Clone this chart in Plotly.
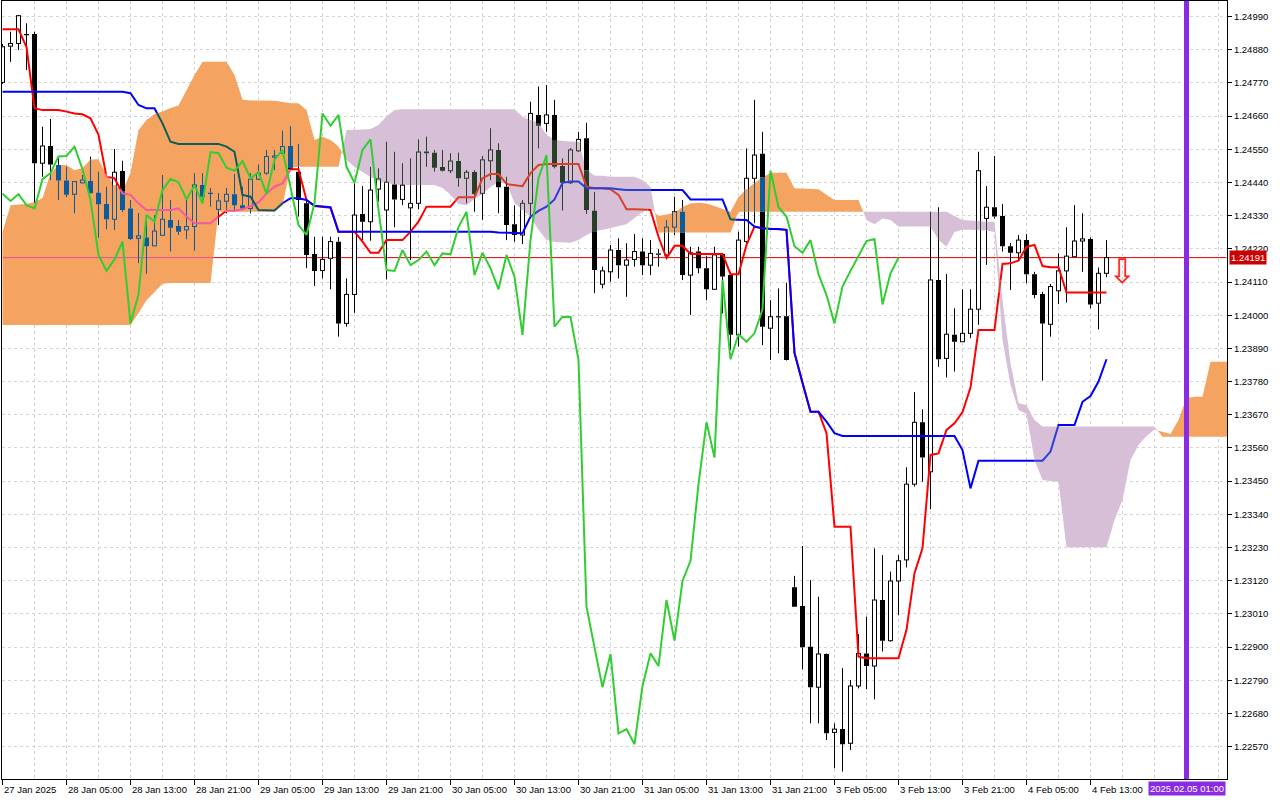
import plotly.graph_objects as go

# ---------------- data (EURUSD-like H1) ----------------
opens = [1.24772, 1.24892, 1.24901, 1.24932, 1.24932, 1.24504, 1.24561, 1.24498, 1.24447, 1.24401,
         1.24439, 1.24445, 1.24406, 1.24369, 1.24318, 1.24478, 1.24354, 1.24255, 1.24258, 1.24230,
         1.24265, 1.24316, 1.24296, 1.24283, 1.24294, 1.24432, 1.24405, 1.24351, 1.24378, 1.24401,
         1.24365, 1.24354, 1.24451, 1.24471, 1.24524, 1.24537, 1.24561, 1.24476, 1.24371, 1.24203,
         1.24148, 1.24189, 1.24244, 1.23973, 1.24069, 1.24336, 1.24310, 1.24418, 1.24349, 1.24435,
         1.24384, 1.24356, 1.24371, 1.24543, 1.24539, 1.24491, 1.24479, 1.24511, 1.24454, 1.24475,
         1.24404, 1.24512, 1.24548, 1.24426, 1.24302, 1.24266, 1.24371, 1.24664, 1.24636, 1.24664,
         1.24495, 1.24439, 1.24545, 1.24587, 1.24346, 1.24103, 1.24144, 1.24216, 1.24166, 1.24185,
         1.24211, 1.24166, 1.24203, 1.24200, 1.24292, 1.24343, 1.24133, 1.24211, 1.24156, 1.24086,
         1.24203, 1.24133, 1.23935, 1.24244, 1.24454, 1.24535, 1.23957, 1.23995, 1.23997, 1.23098,
         1.23036, 1.22901, 1.22767, 1.22877, 1.22617, 1.22628, 1.22581, 1.22771, 1.22879, 1.22837,
         1.23056, 1.22921, 1.23119, 1.23189, 1.23440, 1.23645, 1.23481, 1.24117, 1.23857, 1.23935,
         1.23912, 1.23940, 1.24020, 1.24321, 1.24358, 1.24329, 1.24229, 1.24207, 1.24249, 1.24136,
         1.24070, 1.23970, 1.24081, 1.24147, 1.24194, 1.24246, 1.24253, 1.24040, 1.24139]
highs = [1.24899, 1.24940, 1.24995, 1.24968, 1.24940, 1.24625, 1.24651, 1.24526, 1.24492, 1.24445,
         1.24465, 1.24526, 1.24476, 1.24426, 1.24551, 1.24512, 1.24382, 1.24339, 1.24332, 1.24332,
         1.24465, 1.24382, 1.24316, 1.24382, 1.24471, 1.24471, 1.24422, 1.24405, 1.24422, 1.24468,
         1.24426, 1.24471, 1.24500, 1.24548, 1.24548, 1.24612, 1.24627, 1.24568, 1.24382, 1.24260,
         1.24260, 1.24260, 1.24259, 1.24122, 1.24437, 1.24428, 1.24492, 1.24487, 1.24575, 1.24542,
         1.24504, 1.24520, 1.24583, 1.24592, 1.24548, 1.24548, 1.24537, 1.24539, 1.24481, 1.24481,
         1.24528, 1.24620, 1.24570, 1.24459, 1.24365, 1.24382, 1.24708, 1.24758, 1.24763, 1.24714,
         1.24520, 1.24554, 1.24608, 1.24638, 1.24409, 1.24161, 1.24233, 1.24255, 1.24239, 1.24269,
         1.24255, 1.24249, 1.24219, 1.24316, 1.24393, 1.24382, 1.24227, 1.24227, 1.24196, 1.24227,
         1.24206, 1.24144, 1.24277, 1.24553, 1.24714, 1.24608, 1.24050, 1.24089, 1.24108, 1.23136,
         1.23235, 1.23122, 1.23067, 1.22879, 1.22647, 1.22830, 1.22791, 1.22943, 1.23001, 1.23227,
         1.23205, 1.23150, 1.23205, 1.23496, 1.23745, 1.23688, 1.24343, 1.24358, 1.24137, 1.24023,
         1.24086, 1.24086, 1.24542, 1.24428, 1.24528, 1.24369, 1.24240, 1.24266, 1.24269, 1.24144,
         1.24078, 1.24104, 1.24205, 1.24292, 1.24365, 1.24338, 1.24258, 1.24158, 1.24249]
lows = [1.24767, 1.24840, 1.24879, 1.24813, 1.24372, 1.24459, 1.24448, 1.24382, 1.24391, 1.24338,
        1.24437, 1.24403, 1.24257, 1.24285, 1.24283, 1.24342, 1.24249, 1.24173, 1.24137, 1.24229,
        1.24263, 1.24211, 1.24266, 1.24252, 1.24214, 1.24382, 1.24360, 1.24299, 1.24338, 1.24349,
        1.24349, 1.24338, 1.24448, 1.24465, 1.24481, 1.24535, 1.24481, 1.24327, 1.24156, 1.24097,
        1.24122, 1.24086, 1.23929, 1.23962, 1.24008, 1.24249, 1.24247, 1.24376, 1.24119, 1.24292,
        1.24365, 1.24183, 1.24351, 1.24492, 1.24476, 1.24476, 1.24471, 1.24426, 1.24371, 1.24343,
        1.24316, 1.24448, 1.24338, 1.24249, 1.24244, 1.24236, 1.24327, 1.24553, 1.24608, 1.24487,
        1.24347, 1.24435, 1.24542, 1.24336, 1.24073, 1.24089, 1.24111, 1.24122, 1.24061, 1.24161,
        1.24133, 1.24133, 1.24161, 1.24185, 1.24266, 1.24117, 1.24001, 1.24139, 1.24050, 1.24084,
        1.24006, 1.23885, 1.23896, 1.24227, 1.24305, 1.23901, 1.23852, 1.23874, 1.23850, 1.23033,
        1.22826, 1.22647, 1.22647, 1.22592, 1.22498, 1.22487, 1.22559, 1.22763, 1.22760, 1.22727,
        1.22885, 1.22918, 1.23006, 1.23164, 1.23432, 1.23448, 1.23357, 1.23829, 1.23794, 1.23813,
        1.23912, 1.23924, 1.23968, 1.24167, 1.24321, 1.24211, 1.24084, 1.24183, 1.24106, 1.24056,
        1.23783, 1.23929, 1.24037, 1.24042, 1.24194, 1.24144, 1.24023, 1.23953, 1.24126]
closes = [1.24890, 1.24901, 1.24993, 1.24929, 1.24504, 1.24561, 1.24500, 1.24447, 1.24399, 1.24443,
          1.24448, 1.24404, 1.24368, 1.24318, 1.24474, 1.24349, 1.24253, 1.24263, 1.24229, 1.24279,
          1.24318, 1.24290, 1.24277, 1.24294, 1.24432, 1.24393, 1.24403, 1.24379, 1.24401, 1.24365,
          1.24354, 1.24451, 1.24471, 1.24526, 1.24528, 1.24559, 1.24484, 1.24382, 1.24200, 1.24147,
          1.24185, 1.24244, 1.23973, 1.24069, 1.24332, 1.24310, 1.24415, 1.24452, 1.24441, 1.24384,
          1.24431, 1.24371, 1.24541, 1.24537, 1.24489, 1.24479, 1.24511, 1.24454, 1.24474, 1.24402,
          1.24515, 1.24548, 1.24424, 1.24299, 1.24266, 1.24371, 1.24669, 1.24628, 1.24664, 1.24492,
          1.24439, 1.24548, 1.24583, 1.24349, 1.24150, 1.24147, 1.24216, 1.24166, 1.24183, 1.24211,
          1.24166, 1.24205, 1.24202, 1.24292, 1.24343, 1.24133, 1.24207, 1.24156, 1.24086, 1.24200,
          1.24128, 1.23935, 1.24249, 1.24454, 1.24531, 1.23962, 1.23995, 1.23994, 1.23852, 1.23034,
          1.22899, 1.22767, 1.22877, 1.22614, 1.22628, 1.22578, 1.22771, 1.22879, 1.22837, 1.23056,
          1.22921, 1.23119, 1.23186, 1.23440, 1.23645, 1.23528, 1.24117, 1.23854, 1.23937, 1.23912,
          1.23940, 1.24020, 1.24479, 1.24358, 1.24327, 1.24229, 1.24207, 1.24249, 1.24136, 1.24067,
          1.23973, 1.24095, 1.24147, 1.24196, 1.24246, 1.24253, 1.24036, 1.24139, 1.24191]

tenkan = [1.24948, 1.24948, 1.24948, 1.24889, 1.24686, 1.24680, 1.24680, 1.24680, 1.24675, 1.24669,
          1.24666, 1.24653, 1.24598, 1.24459, 1.24454, 1.24404, 1.24399, 1.24371, 1.24349, 1.24349,
          1.24349, 1.24349, 1.24354, 1.24327, 1.24305, 1.24305, 1.24305, 1.24327, 1.24346, 1.24346,
          1.24351, 1.24362, 1.24374, 1.24404, 1.24426, 1.24437, 1.24484, 1.24484, 1.24382, 1.24362,
          1.24359, 1.24356, 1.24277, 1.24277, 1.24277, 1.24244, 1.24207, 1.24207, 1.24249, 1.24249,
          1.24249, 1.24277, 1.24310, 1.24360, 1.24360, 1.24360, 1.24360, 1.24391, 1.24391, 1.24391,
          1.24454, 1.24468, 1.24468, 1.24435, 1.24432, 1.24428, 1.24471, 1.24498, 1.24501, 1.24501,
          1.24501, 1.24501, 1.24501, 1.24426, 1.24421, 1.24421, 1.24418, 1.24399, 1.24351, 1.24351,
          1.24351, 1.24349, 1.24260, 1.24189, 1.24230, 1.24230, 1.24203, 1.24203, 1.24203, 1.24203,
          1.24203, 1.24136, 1.24136, 1.24233, 1.24294, 1.24288, 1.24286, 1.24286, 1.24283, 1.23875,
          1.23775, 1.23680, 1.23680, 1.23609, 1.23299, 1.23299, 1.23299, 1.22868, 1.22863, 1.22863,
          1.22863, 1.22863, 1.22863, 1.22957, 1.23145, 1.23227, 1.23537, 1.23542, 1.23620, 1.23642,
          1.23679, 1.23760, 1.23951, 1.23951, 1.23951, 1.24170, 1.24172, 1.24181, 1.24227, 1.24233,
          1.24163, 1.24159, 1.24159, 1.24075, 1.24075, 1.24075, 1.24075, 1.24075, 1.24075]
kijun = [1.24741, 1.24741, 1.24741, 1.24741, 1.24741, 1.24741, 1.24741, 1.24741, 1.24741, 1.24741,
         1.24741, 1.24741, 1.24741, 1.24741, 1.24741, 1.24741, 1.24736, 1.24697, 1.24686, 1.24686,
         1.24636, 1.24575, 1.24568, 1.24568, 1.24568, 1.24568, 1.24568, 1.24568, 1.24559, 1.24542,
         1.24399, 1.24393, 1.24349, 1.24349, 1.24347, 1.24371, 1.24388, 1.24388, 1.24382, 1.24363,
         1.24360, 1.24358, 1.24277, 1.24277, 1.24277, 1.24277, 1.24277, 1.24277, 1.24277, 1.24277,
         1.24277, 1.24277, 1.24277, 1.24277, 1.24277, 1.24277, 1.24277, 1.24277, 1.24277, 1.24277,
         1.24277, 1.24277, 1.24274, 1.24274, 1.24274, 1.24272, 1.24327, 1.24346, 1.24360, 1.24384,
         1.24439, 1.24443, 1.24443, 1.24421, 1.24421, 1.24421, 1.24421, 1.24418, 1.24415, 1.24415,
         1.24415, 1.24415, 1.24415, 1.24415, 1.24415, 1.24415, 1.24384, 1.24384, 1.24384, 1.24384,
         1.24384, 1.24318, 1.24316, 1.24316, 1.24294, 1.24288, 1.24286, 1.24286, 1.24283, 1.23875,
         1.23775, 1.23680, 1.23680, 1.23647, 1.23609, 1.23600, 1.23600, 1.23600, 1.23600, 1.23600,
         1.23600, 1.23600, 1.23600, 1.23600, 1.23600, 1.23600, 1.23600, 1.23600, 1.23600, 1.23600,
         1.23553, 1.23426, 1.23518, 1.23518, 1.23518, 1.23518, 1.23518, 1.23518, 1.23518, 1.23518,
         1.23518, 1.23548, 1.23636, 1.23636, 1.23636, 1.23713, 1.23732, 1.23780, 1.23854]
span_a = [1.24276, 1.24365, 1.24367, 1.24369, 1.24375, 1.24389, 1.24471, 1.24498, 1.24498, 1.24481,
          1.24488, 1.24516, 1.24517, 1.24465, 1.24432, 1.24412, 1.24472, 1.24614, 1.24647, 1.24667,
          1.24675, 1.24687, 1.24695, 1.24747, 1.24796, 1.24840, 1.24840, 1.24840, 1.24840, 1.24796,
          1.24714, 1.24712, 1.24711, 1.24711, 1.24711, 1.24707, 1.24703, 1.24703, 1.24680, 1.24581,
          1.24592, 1.24581, 1.24559, 1.24515, 1.24491, 1.24475, 1.24458, 1.24445, 1.24438, 1.24433,
          1.24432, 1.24432, 1.24432, 1.24432, 1.24432, 1.24422, 1.24399, 1.24369, 1.24365, 1.24385,
          1.24402, 1.24425, 1.24442, 1.24438, 1.24372, 1.24349, 1.24326, 1.24283, 1.24249, 1.24243,
          1.24241, 1.24240, 1.24249, 1.24266, 1.24278, 1.24283, 1.24288, 1.24296, 1.24302, 1.24322,
          1.24342, 1.24354, 1.24329, 1.24334, 1.24340, 1.24359, 1.24370, 1.24373, 1.24370, 1.24362,
          1.24352, 1.24343, 1.24392, 1.24418, 1.24438, 1.24457, 1.24472, 1.24472, 1.24472, 1.24421,
          1.24420, 1.24418, 1.24418, 1.24399, 1.24382, 1.24382, 1.24382, 1.24382, 1.24316, 1.24302,
          1.24321, 1.24316, 1.24294, 1.24294, 1.24294, 1.24294, 1.24294, 1.24249, 1.24227, 1.24276,
          1.24283, 1.24283, 1.24283, 1.24281, 1.24276, 1.23918, 1.23769, 1.23686, 1.23673, 1.23520,
          1.23454, 1.23450, 1.23447, 1.23231, 1.23231, 1.23231, 1.23231, 1.23231, 1.23231, 1.23321,
          1.23388, 1.23520, 1.23570, 1.23600, 1.23621, 1.23613, 1.23606, 1.23653, 1.23726, 1.23730,
          1.23730, 1.23846, 1.23846, 1.23846, 1.23846]
span_b = [1.23968, 1.23968, 1.23968, 1.23968, 1.23968, 1.23968, 1.23968, 1.23968, 1.23968, 1.23968,
          1.23968, 1.23968, 1.23968, 1.23968, 1.23968, 1.23968, 1.23968, 1.24007, 1.24050, 1.24077,
          1.24104, 1.24107, 1.24107, 1.24107, 1.24107, 1.24107, 1.24107, 1.24343, 1.24343, 1.24343,
          1.24343, 1.24343, 1.24343, 1.24343, 1.24343, 1.24365, 1.24488, 1.24492, 1.24492, 1.24492,
          1.24492, 1.24492, 1.24492, 1.24614, 1.24614, 1.24616, 1.24617, 1.24631, 1.24660, 1.24680,
          1.24683, 1.24683, 1.24683, 1.24683, 1.24683, 1.24683, 1.24683, 1.24683, 1.24683, 1.24683,
          1.24683, 1.24683, 1.24683, 1.24683, 1.24683, 1.24658, 1.24647, 1.24637, 1.24598, 1.24581,
          1.24578, 1.24576, 1.24575, 1.24481, 1.24463, 1.24462, 1.24459, 1.24459, 1.24459, 1.24459,
          1.24448, 1.24425, 1.24274, 1.24274, 1.24274, 1.24274, 1.24274, 1.24274, 1.24274, 1.24274,
          1.24274, 1.24274, 1.24343, 1.24343, 1.24343, 1.24343, 1.24343, 1.24343, 1.24343, 1.24343,
          1.24343, 1.24343, 1.24343, 1.24343, 1.24343, 1.24343, 1.24343, 1.24343, 1.24343, 1.24343,
          1.24343, 1.24343, 1.24343, 1.24343, 1.24343, 1.24343, 1.24343, 1.24343, 1.24343, 1.24329,
          1.24316, 1.24316, 1.24312, 1.24310, 1.24310, 1.24050, 1.23842, 1.23709, 1.23702, 1.23653,
          1.23631, 1.23631, 1.23631, 1.23631, 1.23631, 1.23631, 1.23631, 1.23631, 1.23631, 1.23631,
          1.23631, 1.23631, 1.23631, 1.23631, 1.23631, 1.23597, 1.23597, 1.23597, 1.23597, 1.23597,
          1.23597, 1.23597, 1.23597, 1.23597, 1.23597]

chikou_shift = 26
x_labels = ["27 Jan 2025", "28 Jan 05:00", "28 Jan 13:00", "28 Jan 21:00", "29 Jan 05:00",
            "29 Jan 13:00", "29 Jan 21:00", "30 Jan 05:00", "30 Jan 13:00", "30 Jan 21:00",
            "31 Jan 05:00", "31 Jan 13:00", "31 Jan 21:00", "3 Feb 05:00", "3 Feb 13:00",
            "3 Feb 21:00", "4 Feb 05:00", "4 Feb 13:00"]
label_step = 8
y_tick_labels = ["1.22570", "1.22680", "1.22790", "1.22900", "1.23010", "1.23120", "1.23230",
                 "1.23340", "1.23450", "1.23560", "1.23670", "1.23780", "1.23890", "1.24000",
                 "1.24110", "1.24220", "1.24330", "1.24440", "1.24550", "1.24660", "1.24770",
                 "1.24880", "1.24990"]
last_price = 1.24191
marker_time = "2025.02.05 01:00"
marker_bar = 148
signal_bar = 140
signal_price = 1.24147

# ---------------- styles ----------------
UP_CLOUD = "#F4A460"
DN_CLOUD = "#D8BFD8"
GRID = "#D4D4D4"
FONT = "Liberation Sans, Arial, sans-serif"
BLACKS = {0: "#000000", 1: "#0B5B9F", 2: "#274027"}
WHITES = {0: "#FFFFFF", 1: UP_CLOUD, 2: DN_CLOUD}
REDS = {0: "#FF0000", 1: "#F45B9F", 2: "#D84027"}
BLUES = {0: "#0000FF", 1: "#0B5B60", 2: "#2740D8"}
PRICE_LINE = {0: "#E00000", 1: "#E0509F", 2: "#D84027"}

n_bars = len(closes)
n_cloud = len(span_a)

fig = go.Figure()


def state_at(k, y):
    a, b = span_a[k], span_b[k]
    if min(a, b) < y < max(a, b):
        return 1 if a > b else 2
    return 0


def split_v(k, y0, y1):
    lo, hi = sorted((span_a[k], span_b[k]))
    st_in = 1 if span_a[k] > span_b[k] else 2
    if y1 <= lo or y0 >= hi:
        return [(y0, y1, 0)]
    parts = []
    if y0 < lo:
        parts.append((y0, lo, 0))
    parts.append((max(y0, lo), min(y1, hi), st_in))
    if y1 > hi:
        parts.append((hi, y1, 0))
    return parts


# ---- cloud polygons ----
polys = {True: ([], []), False: ([], [])}
cur = span_a[0] >= span_b[0]
xs, ya, yb = [0], [span_a[0]], [span_b[0]]


def close_run(sign, xs, ya, yb):
    px, py = polys[sign]
    if px:
        px.append(None)
        py.append(None)
    px.extend(xs + xs[::-1])
    py.extend(ya + yb[::-1])


for k in range(1, n_cloud):
    s = span_a[k] >= span_b[k]
    if s != cur:
        d0 = span_a[k - 1] - span_b[k - 1]
        d1 = span_a[k] - span_b[k]
        t = d0 / (d0 - d1)
        xc = k - 1 + t
        yc = span_a[k - 1] + t * (span_a[k] - span_a[k - 1])
        xs.append(xc); ya.append(yc); yb.append(yc)
        close_run(cur, xs, ya, yb)
        cur = s
        xs, ya, yb = [xc], [yc], [yc]
    xs.append(k); ya.append(span_a[k]); yb.append(span_b[k])
close_run(cur, xs, ya, yb)

for sign, col in ((True, UP_CLOUD), (False, DN_CLOUD)):
    px, py = polys[sign]
    fig.add_trace(go.Scatter(x=px, y=py, mode="lines", fill="toself", fillcolor=col,
                             line=dict(width=0, color=col), hoverinfo="skip"))


# ---- lines split by the cloud (XOR-like colouring) ----
def split_line(xv, yv):
    pieces = []
    for k in range(len(xv) - 1):
        x0, x1 = xv[k], xv[k + 1]
        y0, y1 = yv[k], yv[k + 1]
        i0 = int(x0)
        a0, a1 = span_a[i0], span_a[i0 + 1]
        b0, b1 = span_b[i0], span_b[i0 + 1]
        ts = [0.0, 1.0]
        for p0, p1 in ((a0, a1), (b0, b1)):
            d0, d1 = y0 - p0, y1 - p1
            if d0 != d1:
                t = d0 / (d0 - d1)
                if 0 < t < 1:
                    ts.append(t)
        d0, d1 = a0 - b0, a1 - b1
        if d0 != d1:
            t = d0 / (d0 - d1)
            if 0 < t < 1:
                ts.append(t)
        ts.sort()
        for t0, t1 in zip(ts[:-1], ts[1:]):
            tm = (t0 + t1) / 2
            ym = y0 + (y1 - y0) * tm
            am = a0 + (a1 - a0) * tm
            bm = b0 + (b1 - b0) * tm
            if min(am, bm) < ym < max(am, bm):
                st = 1 if am > bm else 2
            else:
                st = 0
            pieces.append((x0 + (x1 - x0) * t0, y0 + (y1 - y0) * t0,
                           x0 + (x1 - x0) * t1, y0 + (y1 - y0) * t1, st))
    return pieces


def add_split_line(xv, yv, colors, width):
    groups = {0: ([], []), 1: ([], []), 2: ([], [])}
    prev = None
    for (x0, y0, x1, y1, st) in split_line(xv, yv):
        gx, gy = groups[st]
        if st != prev or not gx:
            if gx:
                gx.append(None); gy.append(None)
            gx.extend([x0, x1]); gy.extend([y0, y1])
        else:
            gx.append(x1); gy.append(y1)
        prev = st
    for st, (gx, gy) in groups.items():
        if gx:
            fig.add_trace(go.Scatter(x=gx, y=gy, mode="lines",
                                     line=dict(color=colors[st], width=width),
                                     hoverinfo="skip"))


# price line
px_range = list(range(0, n_cloud - 1))
add_split_line(px_range, [last_price] * len(px_range), PRICE_LINE, 1)

# ---- candles ----
HW_FILL = 0.3125
HW_OUT = 0.25
wick = {s: ([], []) for s in range(3)}
bear = {s: ([], []) for s in range(3)}
bullf = {s: ([], []) for s in range(3)}
outl = {s: ([], []) for s in range(3)}


def add_seg(d, s, xs_, ys_):
    d[s][0].extend(xs_ + [None])
    d[s][1].extend(ys_ + [None])


for k in range(n_bars):
    o, h, l, c = opens[k], highs[k], lows[k], closes[k]
    top, bot = max(o, c), min(o, c)
    if top - bot < 0.00004:
        mid = (top + bot) / 2
        top, bot = mid + 0.00002, mid - 0.00002
    for y0, y1 in ((top, h), (l, bot)):
        if y1 > y0:
            for a_, b_, s in split_v(k, y0, y1):
                add_seg(wick, s, [k, k], [a_, b_])
    if c < o:
        for a_, b_, s in split_v(k, bot, top):
            add_seg(bear, s, [k - HW_FILL, k + HW_FILL, k + HW_FILL, k - HW_FILL, k - HW_FILL],
                    [a_, a_, b_, b_, a_])
    else:
        for a_, b_, s in split_v(k, bot, top):
            add_seg(bullf, s, [k - HW_OUT, k + HW_OUT, k + HW_OUT, k - HW_OUT, k - HW_OUT],
                    [a_, a_, b_, b_, a_])
            add_seg(outl, s, [k - HW_OUT, k - HW_OUT], [a_, b_])
            add_seg(outl, s, [k + HW_OUT, k + HW_OUT], [a_, b_])
        for yy in (top, bot):
            add_seg(outl, state_at(k, yy), [k - HW_OUT - 0.06, k + HW_OUT + 0.06], [yy, yy])

for s in range(3):
    if wick[s][0]:
        fig.add_trace(go.Scatter(x=wick[s][0], y=wick[s][1], mode="lines",
                                 line=dict(color=BLACKS[s], width=1), hoverinfo="skip"))
for s in range(3):
    if bullf[s][0]:
        fig.add_trace(go.Scatter(x=bullf[s][0], y=bullf[s][1], mode="lines", fill="toself",
                                 fillcolor=WHITES[s], line=dict(width=0, color=WHITES[s]),
                                 hoverinfo="skip"))
    if bear[s][0]:
        fig.add_trace(go.Scatter(x=bear[s][0], y=bear[s][1], mode="lines", fill="toself",
                                 fillcolor=BLACKS[s], line=dict(width=0, color=BLACKS[s]),
                                 hoverinfo="skip"))
for s in range(3):
    if outl[s][0]:
        fig.add_trace(go.Scatter(x=outl[s][0], y=outl[s][1], mode="lines",
                                 line=dict(color=BLACKS[s], width=1), hoverinfo="skip"))

# ---- Ichimoku lines ----
bars = list(range(n_bars))
add_split_line(bars, tenkan, REDS, 2)
add_split_line(bars, kijun, BLUES, 2)
chikou = closes[chikou_shift:]
fig.add_trace(go.Scatter(x=list(range(len(chikou))), y=chikou, mode="lines",
                         line=dict(color="#32CD32", width=2), hoverinfo="skip"))

# ---- decorations ----
fig.add_shape(type="line", xref="x", yref="paper", x0=marker_bar, x1=marker_bar, y0=0, y1=1,
              line=dict(color="#8A2BE2", width=5), layer="above")

annotations = []
for k, lab in enumerate(x_labels):
    annotations.append(dict(x=k * label_step, y=0, xref="x", yref="paper", text=lab,
                            showarrow=False, xanchor="left", yanchor="top", yshift=-3, xshift=-1,
                            font=dict(family=FONT, size=9.5, color="black")))
annotations.append(dict(x=marker_bar, y=0, xref="x", yref="paper", text=marker_time,
                        showarrow=False, xanchor="center", yanchor="top", yshift=-2,
                        bgcolor="#8A2BE2", borderpad=1,
                        font=dict(family=FONT, size=9.5, color="white")))
annotations.append(dict(x=1, y=last_price, xref="paper", yref="y", text=f"{last_price:.5f}",
                        showarrow=False, xanchor="left", yanchor="middle", xshift=2,
                        bgcolor="#CC0000", borderpad=1,
                        font=dict(family=FONT, size=9.5, color="white")))
annotations.append(dict(x=signal_bar, y=signal_price, xref="x", yref="y", text="\u21e9",
                        showarrow=False, xanchor="center", yanchor="middle",
                        font=dict(family="DejaVu Sans", size=34, color="#FF2020")))

y_vals = [float(s) for s in y_tick_labels]
fig.update_layout(
    width=1280, height=800, margin=dict(l=2, r=53, t=1, b=21),
    paper_bgcolor="white", plot_bgcolor="white", showlegend=False, hovermode=False,
    font=dict(family=FONT, size=9.5, color="black"),
    annotations=annotations,
)
fig.update_xaxes(range=[-0.0625, 153.0625], tickmode="array",
                 tickvals=[k * label_step for k in range(len(x_labels))],
                 ticktext=[""] * len(x_labels), ticks="outside", ticklen=5, tickcolor="black",
                 showline=True, linecolor="black", linewidth=1, mirror=True,
                 showgrid=True, gridcolor=GRID, griddash="3px,3px", gridwidth=1, zeroline=False,
                 minor=dict(tickmode="linear", tick0=0, dtick=4, showgrid=True, gridcolor=GRID,
                            griddash="3px,3px", ticks=""))
fig.update_yaxes(range=[1.224626, 1.250417], side="right", tickmode="array",
                 tickvals=y_vals, ticktext=y_tick_labels, ticks="outside", ticklen=4,
                 tickcolor="black", showline=True, linecolor="black", linewidth=1, mirror=True,
                 showgrid=True, gridcolor=GRID, griddash="3px,3px", gridwidth=1, zeroline=False,
                 tickfont=dict(family=FONT, size=9.5, color="black"))

fig.write_html("out.html", config={"displayModeBar": False, "staticPlot": True})

# remove the browser's default page margin so the 1280x800 figure fills the window exactly
with open("out.html", "r", encoding="utf-8") as fh:
    page = fh.read()
page = page.replace("<head>", "<head><style>html,body{margin:0;padding:0;overflow:hidden;}</style>", 1)
with open("out.html", "w", encoding="utf-8") as fh:
    fh.write(page)
